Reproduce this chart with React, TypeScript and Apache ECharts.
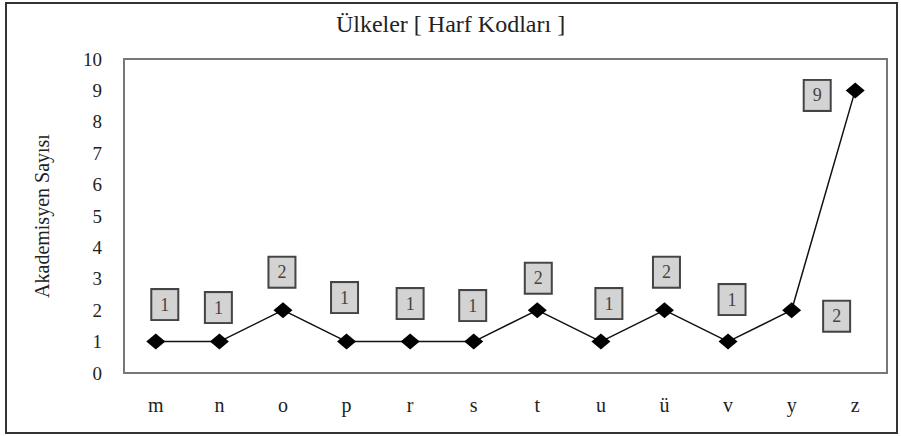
import React, { useEffect, useRef } from "react";
import * as echarts from "echarts";

const categories = ["m", "n", "o", "p", "r", "s", "t", "u", "ü", "v", "y", "z"];
const counts = [1, 1, 2, 1, 1, 1, 2, 1, 2, 1, 2, 9];
const yTicks = { min: 0, max: 10, interval: 1 };
const labelOffsets: [number, number][] = [
  [9, -37], [-1, -34], [-1, -38], [-2, -44], [0, -38], [-1, -36],
  [1, -32], [8, -38], [2, -38], [4, -42], [45, 6], [-38, 5],
];

const FONT = "Liberation Serif";

export default function App() {
  const ref = useRef<HTMLDivElement>(null);
  useEffect(() => {
    if (!ref.current) return;
    const chart = echarts.init(ref.current, undefined, { renderer: "svg" });
    chart.setOption({
      animation: false,
      backgroundColor: "#ffffff",
      textStyle: { fontFamily: FONT },
      title: {
        text: "Ülkeler [ Harf Kodları ]",
        left: "center",
        top: 7,
        textStyle: { fontFamily: FONT, fontSize: 24, fontWeight: "normal", color: "#222" },
      },
      graphic: [
        {
          type: "rect",
          shape: { x: 6, y: 3, width: 891, height: 430 },
          style: { fill: "none", stroke: "#333", lineWidth: 2 },
          silent: true,
        },
      ],
      grid: {
        left: 124,
        right: 14,
        top: 59,
        bottom: 63,
        show: true,
        borderColor: "#777",
        borderWidth: 2,
        backgroundColor: "transparent",
      },
      xAxis: {
        type: "category",
        data: categories,
        boundaryGap: true,
        axisLine: { show: false },
        axisTick: { show: false },
        axisLabel: { fontFamily: FONT, fontSize: 20, color: "#222", margin: 22 },
      },
      yAxis: {
        type: "value",
        min: yTicks.min,
        max: yTicks.max,
        interval: yTicks.interval,
        name: "Akademisyen Sayısı",
        nameLocation: "middle",
        nameGap: 72,
        nameTextStyle: { fontFamily: FONT, fontSize: 20, color: "#222" },
        axisLine: { show: false },
        axisTick: { show: false },
        splitLine: { show: false },
        axisLabel: { fontFamily: FONT, fontSize: 19, color: "#222", margin: 22 },
      },
      series: [
        {
          type: "line",
          data: counts.map((v, i) => ({
            value: v,
            label: { offset: labelOffsets[i] },
          })),
          symbol: "diamond",
          symbolSize: [19, 16],
          itemStyle: { color: "#000" },
          lineStyle: { color: "#111", width: 1.5 },
          label: {
            show: true,
            position: "inside",
            fontFamily: FONT,
            fontSize: 18,
            color: "#444",
            backgroundColor: "#d3d3d3",
            borderColor: "#444",
            borderWidth: 2,
            padding: [6, 8],
            lineHeight: 17,
          },
        },
      ],
    });
    return () => chart.dispose();
  }, []);
  return (
    <div
      ref={ref}
      style={{ position: "fixed", left: 0, top: 0, width: 901, height: 436 }}
    />
  );
}
